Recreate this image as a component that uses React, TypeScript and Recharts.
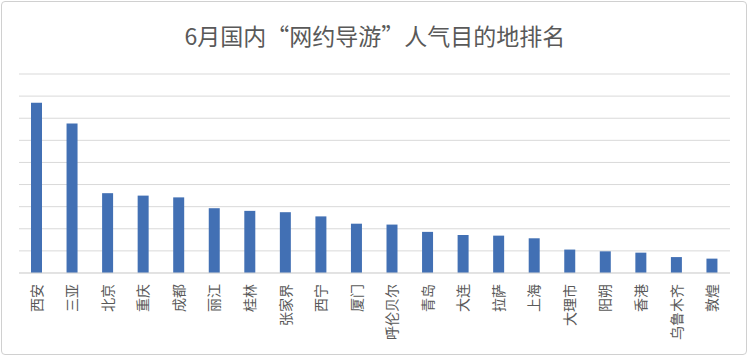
import { Bar, BarChart, CartesianGrid, XAxis, YAxis } from 'recharts';

const cities = [
  '西安', '三亚', '北京', '重庆', '成都', '丽江', '桂林', '张家界', '西宁', '厦门',
  '呼伦贝尔', '青岛', '大连', '拉萨', '上海', '大理市', '阳朔', '香港', '乌鲁木齐', '敦煌',
];
const popularity = [
  77, 67.6, 36.1, 35, 34.2, 29.3, 28.1, 27.5, 25.6, 22.3,
  21.9, 18.6, 17.2, 16.9, 15.7, 10.6, 9.8, 9.2, 7.2, 6.5,
];
const gridTicks = [0, 10, 20, 30, 40, 50, 60, 70, 80, 90];

const FONT = '"Noto Sans CJK SC", "Noto Sans", sans-serif';

const data = cities.map((city, i) => ({ city, value: popularity[i] }));

function CityTick({ x, y, payload }: { x: number; y: number; payload: { value: string } }) {
  return (
    <text
      x={x}
      y={y}
      transform={`rotate(-90, ${x}, ${y})`}
      textAnchor="end"
      dy="0.35em"
      fontSize={14}
      fill="#595959"
      fontFamily={FONT}
    >
      {payload.value}
    </text>
  );
}

export default function App() {
  return (
    <div style={{ position: 'absolute', left: 0, top: 0, width: 750, height: 357, background: '#fff' }}>
      <div
        style={{
          position: 'absolute',
          left: 1,
          top: 1,
          width: 746,
          height: 354,
          boxSizing: 'border-box',
          border: '1px solid #d0d0d0',
          borderRadius: 4,
        }}
      />
      <div
        style={{
          position: 'absolute',
          left: 0,
          top: 24,
          width: 750,
          textAlign: 'center',
          fontFamily: FONT,
          fontSize: 23,
          lineHeight: '23px',
          color: '#595959',
        }}
      >
        6月国内“网约导游”人气目的地排名
      </div>
      <div style={{ position: 'absolute', left: 0, top: 0 }}>
        <BarChart
          width={750}
          height={357}
          data={data}
          margin={{ top: 74, right: 20, left: 19, bottom: 0 }}
        >
          <CartesianGrid vertical={false} stroke="#d9d9d9" />
          <XAxis
            dataKey="city"
            interval={0}
            height={84}
            tickLine={false}
            axisLine={{ stroke: '#d9d9d9' }}
            tick={(props: any) => <CityTick {...props} y={284} />}
          />
          <YAxis hide domain={[0, 90]} ticks={gridTicks} interval={0} />
          <Bar dataKey="value" fill="#4270b4" barSize={11} isAnimationActive={false} />
        </BarChart>
      </div>
    </div>
  );
}
